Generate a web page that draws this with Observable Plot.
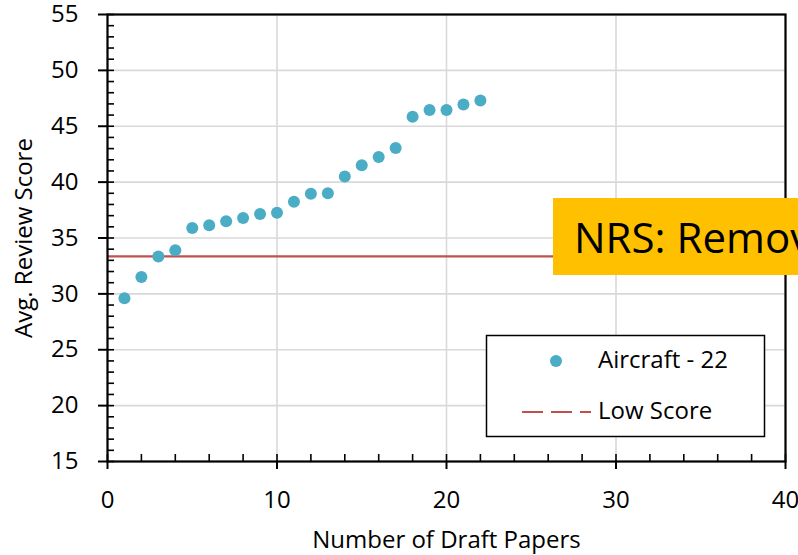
<!DOCTYPE html>
<html>
<head>
<meta charset="utf-8">
<script src="https://cdn.jsdelivr.net/npm/d3@7"></script>
<script src="https://cdn.jsdelivr.net/npm/@observablehq/plot@0.6"></script>
<style>
  html, body { margin: 0; padding: 0; background: #fff; overflow: hidden; }
  #wrap { position: relative; width: 798px; height: 555px; overflow: hidden; }
  #wrap > svg:first-child { overflow: visible; }
  #overlay { position: absolute; left: 0; top: 0; pointer-events: none; }
</style>
</head>
<body>
<div id="wrap"></div>
<script>
// ---- data ----
const draftPapers = [1,2,3,4,5,6,7,8,9,10,11,12,13,14,15,16,17,18,19,20,21,22];
const reviewScores = [29.6,31.5,33.35,33.9,35.9,36.15,36.5,36.8,37.15,37.25,38.25,38.95,39.0,40.5,41.5,42.25,43.05,45.85,46.45,46.45,46.95,47.3];
const lowScore = [33.35];
const xTicks = [0,10,20,30,40];
const yTicks = [15,20,25,30,35,40,45,50,55];
const xMinorTicks = d3.range(0, 41, 2);
const yMinorTicks = d3.range(15, 56, 1);
const seriesName = "Aircraft - 22";
const lowScoreName = "Low Score";
const xTitle = "Number of Draft Papers";
const yTitle = "Avg. Review Score";
const noteText = "NRS: Removed";

const points = draftPapers.map((x, i) => ({x, y: reviewScores[i]}));

const W = 798, H = 555;
const mL = 107, mR = 13, mT = 14, mB = 94;
const fw = W - mL - mR, fh = H - mT - mB;
const font = "'Open Sans', sans-serif";

const chart = Plot.plot({
  width: W, height: H,
  marginLeft: mL, marginRight: mR, marginTop: mT, marginBottom: mB,
  style: {fontFamily: font, fontSize: "24px", color: "#000", background: "#fff", overflow: "visible"},
  x: {domain: [0, 40], label: null},
  y: {domain: [15, 55], label: null},
  marks: [
    Plot.gridX(xTicks, {stroke: "#d9d9d9", strokeOpacity: 1, strokeWidth: 1.6}),
    Plot.gridY(yTicks, {stroke: "#d9d9d9", strokeOpacity: 1, strokeWidth: 1.6}),
    Plot.ruleY(lowScore, {stroke: "#C0504D", strokeWidth: 2.2}),
    Plot.dot(points, {x: "x", y: "y", r: 6, fill: "#4BACC6", stroke: null}),
    // inward minor ticks
    Plot.tickY(yMinorTicks, {y: d => d, insetRight: fw - 7, stroke: "#000", strokeWidth: 1.6}),
    Plot.tickX(xMinorTicks, {x: d => d, insetTop: fh - 7, stroke: "#000", strokeWidth: 1.6}),
    Plot.frame({stroke: "#000", strokeWidth: 2.2}),
    Plot.axisY(yTicks, {tickSize: 9, tickPadding: 20, strokeWidth: 2, label: null, fontSize: 24}),
    Plot.axisX(xTicks, {tickSize: 8, tickPadding: 21, strokeWidth: 2, label: null, fontSize: 24}),
    Plot.text([xTitle], {text: d => d, frameAnchor: "bottom", lineAnchor: "top", dy: 69, fontSize: 24}),
    Plot.text([yTitle], {text: d => d, frameAnchor: "left", rotate: -90, textAnchor: "middle", lineAnchor: "middle", dx: -(mL - 24), fontSize: 24})
  ]
});
document.getElementById("wrap").appendChild(chart);

// ---- overlay: legend + note box ----
const svg = d3.select("#wrap").append("svg")
  .attr("id", "overlay").attr("width", W).attr("height", H)
  .style("font-family", font);

// note box
svg.append("rect").attr("x", 553).attr("y", 198).attr("width", 320).attr("height", 77).attr("fill", "#FFC000");
svg.append("text").attr("x", 574).attr("y", 253).attr("font-size", 42).attr("fill", "#000").text(noteText);

// legend
svg.append("rect").attr("x", 486.5).attr("y", 335.5).attr("width", 278).attr("height", 101)
  .attr("fill", "#fff").attr("stroke", "#000").attr("stroke-width", 1.5);
svg.append("circle").attr("cx", 556).attr("cy", 361).attr("r", 6).attr("fill", "#4BACC6");
svg.append("text").attr("x", 598).attr("y", 368).attr("font-size", 24).attr("fill", "#000").text(seriesName);
svg.append("line").attr("x1", 522).attr("x2", 591).attr("y1", 412).attr("y2", 412)
  .attr("stroke", "#C0504D").attr("stroke-width", 2.2).attr("stroke-dasharray", "21 8");
svg.append("text").attr("x", 598).attr("y", 419).attr("font-size", 24).attr("fill", "#000").text(lowScoreName);
</script>
</body>
</html>
